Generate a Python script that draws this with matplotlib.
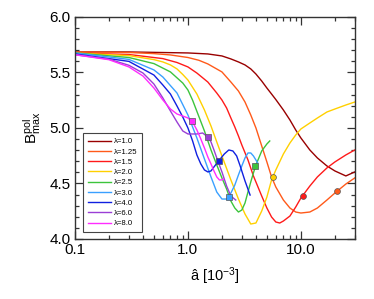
import numpy as np
import matplotlib
matplotlib.use("Agg")
import matplotlib.pyplot as plt
from matplotlib.ticker import FixedLocator, FuncFormatter, MultipleLocator

plt.rcParams['font.family'] = ['Liberation Sans', 'DejaVu Sans']
plt.rcParams['mathtext.fontset'] = 'custom'
plt.rcParams['mathtext.rm'] = 'Liberation Sans'

# lambda values and colours
labels = ["λ=1.0", "λ=1.25", "λ=1.5", "λ=2.0", "λ=2.5", "λ=3.0", "λ=4.0", "λ=6.0", "λ=8.0"]
colors = ["#990000", "#ff5a1a", "#ff1a1a", "#ffd000", "#3cc43c", "#3aa0ff", "#1020e0", "#9a3fd6", "#ff2cff"]

# curves (a_hat [1e-3], B_max^pol)
x_l10 = [0.1, 0.3, 1.0, 1.5, 2.0, 2.4, 2.8, 3.2, 3.6, 4.0, 4.5, 5.0, 5.5, 6.0, 7.0, 8.0, 9.0, 10, 12, 14, 17, 20, 25, 30]
y_l10 = [5.685, 5.685, 5.676, 5.667, 5.649, 5.622, 5.595, 5.568, 5.532, 5.486, 5.423, 5.360, 5.306, 5.256,
         5.162, 5.072, 4.982, 4.910, 4.802, 4.730, 4.658, 4.613, 4.568, 4.604]

x_l125 = [0.1, 0.3, 0.5, 0.7, 1.0, 1.25, 1.5, 2.0, 2.4, 2.8, 3.2, 3.6, 4.0, 4.5, 5.0, 5.5, 6.0, 7.0, 8.0, 9.0, 10,
          12, 14, 17, 20, 25, 30]
y_l125 = [5.685, 5.680, 5.670, 5.658, 5.635, 5.610, 5.577, 5.505, 5.414, 5.333, 5.234, 5.117, 5.000, 4.838,
          4.694, 4.559, 4.468, 4.351, 4.279, 4.243, 4.234, 4.243, 4.279, 4.351, 4.414, 4.495, 4.550]

x_l15 = [0.1, 0.3, 0.6, 0.8, 1.0, 1.2, 1.5, 1.8, 2.0, 2.2, 2.4, 2.6, 2.8, 3.0, 3.4, 3.8, 4.5, 5.0, 5.5, 6.0, 6.5,
         7.0, 8.0, 9.0, 10, 12, 14, 17, 20, 25, 30]
y_l15 = [5.676, 5.662, 5.625, 5.590, 5.550, 5.495, 5.414, 5.315, 5.252, 5.180, 5.090, 5.009, 4.928, 4.847, 4.712,
         4.568, 4.387, 4.279, 4.198, 4.153, 4.144, 4.162, 4.207, 4.288, 4.369, 4.477, 4.559, 4.640, 4.694, 4.757,
         4.802]

x_l20 = [0.1, 0.3, 0.5, 0.6, 0.7, 0.8, 0.9, 1.0, 1.2, 1.4, 1.6, 1.8, 2.0, 2.4, 2.8, 3.2, 3.6, 4.0, 4.5, 5.0, 5.5,
         6.0, 7.0, 8.0, 9.0, 10, 12, 14, 17, 20, 25, 30]
y_l20 = [5.676, 5.652, 5.616, 5.595, 5.568, 5.532, 5.482, 5.432, 5.306, 5.162, 5.018, 4.874, 4.748, 4.532, 4.360,
         4.225, 4.135, 4.144, 4.252, 4.378, 4.532, 4.622, 4.766, 4.865, 4.937, 4.991, 5.045, 5.090, 5.144, 5.171,
         5.207, 5.234]

x_l25 = [0.1, 0.3, 0.5, 0.7, 0.9, 1.0, 1.1, 1.2, 1.4, 1.6, 1.8, 2.0, 2.2, 2.4, 2.6, 2.8, 3.0, 3.2, 3.4, 3.6, 3.8,
         4.0, 4.5, 5.0, 5.3]
y_l25 = [5.676, 5.635, 5.580, 5.505, 5.405, 5.342, 5.250, 5.150, 4.973, 4.802, 4.667, 4.550, 4.450, 4.342, 4.279,
         4.243, 4.261, 4.324, 4.423, 4.514, 4.595, 4.667, 4.793, 4.856, 4.883]

x_l30 = [0.1, 0.3, 0.5, 0.6, 0.8, 1.0, 1.2, 1.4, 1.6, 1.8, 2.0, 2.2, 2.4, 2.6, 2.8, 3.0, 3.2, 3.4, 3.6, 3.8, 4.15]
y_l30 = [5.676, 5.618, 5.523, 5.459, 5.315, 5.117, 4.910, 4.721, 4.559, 4.423, 4.360, 4.360, 4.414, 4.486, 4.577,
         4.658, 4.730, 4.775, 4.775, 4.748, 4.685]

x_l40 = [0.1, 0.3, 0.5, 0.6, 0.7, 0.8, 0.9, 1.0, 1.1, 1.2, 1.3, 1.4, 1.5, 1.6, 1.7, 1.9, 2.1, 2.3, 2.5, 2.7, 2.9,
         3.2, 3.55]
y_l40 = [5.667, 5.600, 5.477, 5.387, 5.306, 5.198, 5.099, 5.000, 4.883, 4.757, 4.676, 4.622, 4.604, 4.613, 4.649,
         4.712, 4.766, 4.802, 4.793, 4.748, 4.658, 4.523, 4.396]

x_l60 = [0.1, 0.2, 0.3, 0.4, 0.5, 0.6, 0.7, 0.8, 0.9, 1.0, 1.2, 1.35, 1.5, 1.6, 1.7, 1.8, 2.0, 2.2, 2.4, 2.65]
y_l60 = [5.660, 5.620, 5.565, 5.495, 5.396, 5.270, 5.153, 5.054, 4.973, 4.946, 4.946, 4.955, 4.919, 4.874, 4.802,
         4.730, 4.604, 4.477, 4.387, 4.351]

x_l80 = [0.1, 0.2, 0.3, 0.4, 0.5, 0.6, 0.7, 0.8, 0.9, 1.0, 1.1, 1.2, 1.3, 1.4, 1.5, 1.6, 1.7, 1.8, 1.9, 2.0, 2.05]
y_l80 = [5.660, 5.615, 5.550, 5.468, 5.360, 5.252, 5.171, 5.126, 5.108, 5.090, 5.054, 4.982, 4.901, 4.820, 4.739,
         4.676, 4.613, 4.559, 4.532, 4.532, 4.541]

curves_x = [x_l10, x_l125, x_l15, x_l20, x_l25, x_l30, x_l40, x_l60, x_l80]
curves_y = [y_l10, y_l125, y_l15, y_l20, y_l25, y_l30, y_l40, y_l60, y_l80]

# marked points on the curves (lambda 1.25 ... 8.0)
mark_x = [20.8, 10.4, 5.65, 3.92, 2.31, 1.88, 1.50, 1.085]
mark_y = [4.432, 4.387, 4.559, 4.658, 4.378, 4.703, 4.919, 5.063]
mark_shape = ["o", "o", "o", "s", "s", "s", "s", "s"]

fig = plt.figure(figsize=(3.74, 2.99), dpi=100)
ax = fig.add_axes([0.2005, 0.2007, 0.7481, 0.7425])

for cx, cy, c, lab in zip(curves_x, curves_y, colors, labels):
    ax.plot(cx, cy, color=c, lw=1.0, label=lab)

for mx, my, ms, c in zip(mark_x, mark_y, mark_shape, colors[1:]):
    ax.plot([mx], [my], marker=ms, ms=4.2, color=c, mec="#555555", mew=0.5, zorder=5)

ax.set_xscale("log")
ax.set_xlim(0.1, 30)
ax.set_ylim(4.0, 6.0)
ax.xaxis.set_major_locator(FixedLocator([0.1, 1.0, 10.0]))
ax.xaxis.set_major_formatter(FuncFormatter(lambda v, p: f"{v:.1f}"))
ax.yaxis.set_major_locator(MultipleLocator(0.5))
ax.yaxis.set_minor_locator(MultipleLocator(0.1))
ax.yaxis.set_major_formatter(FuncFormatter(lambda v, p: f"{v:.1f}"))

ax.tick_params(which="both", direction="in", top=True, right=True, colors="#333333",
               labelcolor="black", labelsize=11, width=0.9)
ax.tick_params(which="major", length=6, pad=3)
ax.tick_params(which="minor", length=3)
for s in ax.spines.values():
    s.set_linewidth(1.0)
    s.set_color("#333333")

ax.set_xlabel(r"â [$\mathregular{10^{-3}}$]", fontsize=10.5, labelpad=6)
ax.set_ylabel(r"$\mathregular{B^{pol}_{max}}$", fontsize=11, labelpad=5)

leg = ax.legend(loc="lower left", bbox_to_anchor=(0.0286, 0.0315), borderaxespad=0,
                fontsize=5.6, handlelength=3.0, handletextpad=0.4, labelspacing=0.36,
                fancybox=False, framealpha=1, edgecolor="#444444", borderpad=0.6)
leg.get_frame().set_linewidth(0.8)

fig.savefig("out.png", dpi=100)
